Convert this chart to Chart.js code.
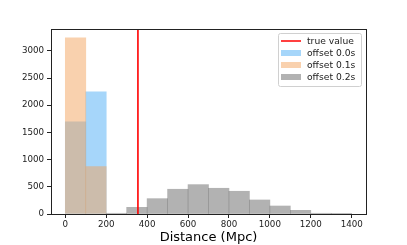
<!DOCTYPE html>
<html>
<head>
<meta charset="utf-8">
<script src="https://cdn.jsdelivr.net/npm/chart.js@4.4.0/dist/chart.umd.min.js"></script>
<style>
  html, body { margin: 0; padding: 0; background: #fff; }
</style>
</head>
<body>
<canvas id="chart" width="407" height="245"></canvas>
<script>
// histogram bins are 100 Mpc wide, values are counts per bin
const binsLow = [50, 150];
const offset00 = [1693, 2245];
const offset01 = [3240, 871];
const binsHigh = [250, 350, 450, 550, 650, 750, 850, 950, 1050, 1150, 1250, 1350];
const offset02 = [13, 123, 282, 455, 540, 473, 418, 258, 147, 68, 13, 2];
const trueValue = 355;
const xTicks = [0, 200, 400, 600, 800, 1000, 1200, 1400];
const yTicks = [0, 500, 1000, 1500, 2000, 2500, 3000];
const legendLabels = ["true value", "offset 0.0s", "offset 0.1s", "offset 0.2s"];

const xLo = 0, xHi = 1400;
const xPad = (xHi - xLo) * 0.05;
const yMax = Math.max(...offset00, ...offset01, ...offset02) * 1.05;

const toPoints = (xs, ys) => xs.map((x, i) => ({ x: x, y: ys[i] }));

const FONT = "'DejaVu Sans', sans-serif";

// matplotlib-like frame + legend inside the axes
const framePlugin = {
  id: "frame",
  afterDraw(chart) {
    const ctx = chart.ctx;
    const a = chart.chartArea;
    ctx.save();
    ctx.strokeStyle = "#222";
    ctx.lineWidth = 1;
    ctx.strokeRect(Math.round(a.left) + 0.5, Math.round(a.top) + 0.5,
      Math.round(a.right - a.left), Math.round(a.bottom - a.top));

    // legend
    const bx = 278, by = 33, bw = 83, bh = 53;
    ctx.fillStyle = "rgba(255,255,255,0.8)";
    ctx.strokeStyle = "#d0d0d0";
    ctx.beginPath();
    ctx.roundRect(bx + 0.5, by + 0.5, bw, bh, 2);
    ctx.fill();
    ctx.stroke();

    ctx.font = "9.2px " + FONT;
    ctx.textBaseline = "middle";
    chart.data.datasets.forEach((ds, i) => {
      const yc = by + 8 + i * 12;
      if (ds.type === "line") {
        ctx.strokeStyle = ds.borderColor;
        ctx.lineWidth = 1.5;
        ctx.beginPath();
        ctx.moveTo(bx + 3, yc);
        ctx.lineTo(bx + 23, yc);
        ctx.stroke();
      } else {
        ctx.fillStyle = ds.backgroundColor;
        ctx.fillRect(bx + 3, yc - 3, 20, 6);
      }
      ctx.fillStyle = "#222";
      ctx.fillText(legendLabels[i], bx + 29, yc + 0.5);
    });
    ctx.restore();
  }
};

const ctx = document.getElementById("chart").getContext("2d");

new Chart(ctx, {
  type: "bar",
  data: {
    datasets: [
      {
        type: "line",
        data: [{ x: trueValue, y: 0 }, { x: trueValue, y: yMax }],
        borderColor: "#ff0000",
        borderWidth: 1.6,
        pointRadius: 0,
        order: 0
      },
      {
        data: toPoints(binsLow, offset00),
        backgroundColor: "rgba(77,173,245,0.5)",
        borderWidth: 0,
        order: 3
      },
      {
        data: toPoints(binsLow, offset01),
        backgroundColor: "rgba(243,163,93,0.5)",
        borderWidth: 0,
        order: 2
      },
      {
        data: toPoints(binsHigh, offset02),
        backgroundColor: "rgba(101,101,101,0.5)",
        borderWidth: 0,
        order: 1
      }
    ]
  },
  options: {
    responsive: false,
    animation: false,
    layout: { padding: { left: 0, top: 29, right: 41, bottom: 0 } },
    datasets: {
      bar: { grouped: false, barPercentage: 1, categoryPercentage: 1 }
    },
    plugins: {
      legend: { display: false },
      tooltip: { enabled: false }
    },
    scales: {
      x: {
        type: "linear",
        min: xLo - xPad,
        max: xHi + xPad,
        offset: false,
        border: { display: false },
        grid: {
          offset: false,
          drawOnChartArea: false,
          drawTicks: true,
          tickLength: 4,
          tickColor: "#222"
        },
        afterBuildTicks: (s) => { s.ticks = xTicks.map((v) => ({ value: v })); },
        afterFit: (s) => { s.height = 31; },
        ticks: {
          autoSkip: false,
          maxRotation: 0,
          padding: 2,
          color: "#222",
          font: { family: FONT, size: 8.7 },
          callback: (v) => String(v)
        },
        title: {
          display: true,
          text: "Distance (Mpc)",
          color: "#000",
          font: { family: FONT, size: 13 },
          padding: { top: 0, bottom: 0 }
        }
      },
      y: {
        min: 0,
        max: yMax,
        border: { display: false },
        grid: {
          drawOnChartArea: false,
          drawTicks: true,
          tickLength: 4,
          tickColor: "#222"
        },
        afterBuildTicks: (s) => { s.ticks = yTicks.map((v) => ({ value: v })); },
        afterFit: (s) => { s.width = 51; },
        ticks: {
          autoSkip: false,
          padding: 3,
          color: "#222",
          font: { family: FONT, size: 8.7 },
          callback: (v) => String(v)
        }
      }
    }
  },
  plugins: [framePlugin]
});
</script>
</body>
</html>
